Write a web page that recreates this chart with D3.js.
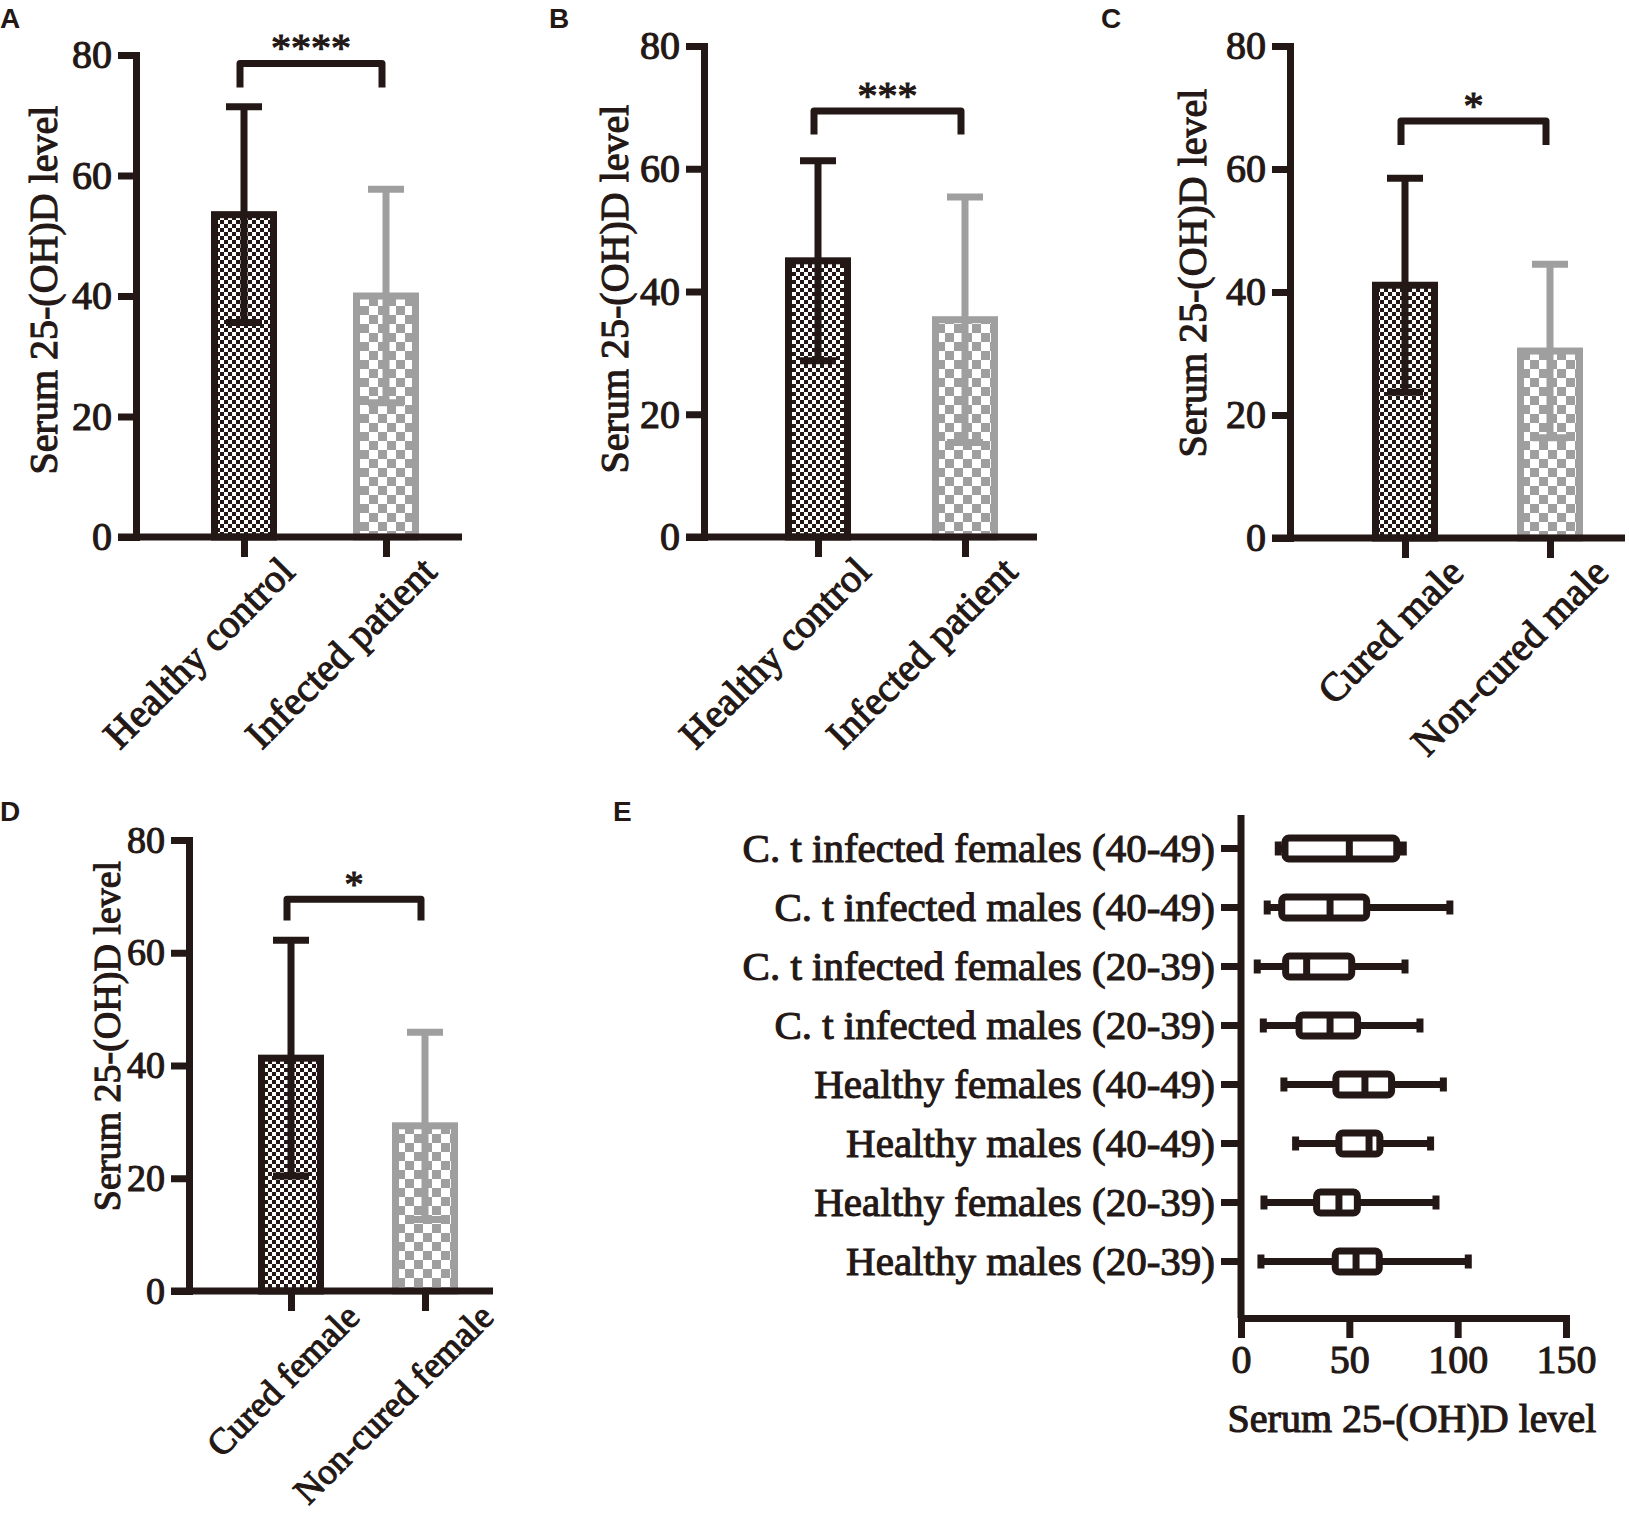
<!DOCTYPE html>
<html>
<head>
<meta charset="utf-8">
<script src="https://cdn.jsdelivr.net/npm/d3@7"></script>
<style>
body { margin: 0; background: #fff; }
svg text { font-family: "Liberation Serif", "Times New Roman", serif; fill: #231815; stroke: #231815; stroke-width: 1.1px; }
svg text.tag { font-family: "Liberation Sans", Arial, sans-serif; font-weight: bold; stroke: none; }
</style>
</head>
<body>
<svg id="fig" width="1629" height="1518"></svg>
<script>
// ---- data ----
var yTicks = [0, 20, 40, 60, 80];

var catsA = ["Healthy control", "Infected patient"];
var meanA = [53.5, 40.0];
var sdA = [17.9, 17.7];
var bracketA = [78.6, 74.6];

var catsB = ["Healthy control", "Infected patient"];
var meanB = [45.0, 35.4];
var sdB = [16.3, 20.0];
var bracketB = [69.4, 65.6];

var catsC = ["Cured male", "Non-cured male"];
var meanC = [41.1, 30.4];
var sdC = [17.4, 14.1];
var bracketC = [67.8, 63.9];

var catsD = ["Cured female", "Non-cured female"];
var meanD = [41.3, 29.3];
var sdD = [20.9, 16.6];
var bracketD = [69.5, 65.7];

var starsA = "****", starsB = "***", starsC = "*", starsD = "*";

// box plot rows, top to bottom
var boxGroups = ["C. t infected females (40-49)", "C. t infected males (40-49)",
	"C. t infected females (20-39)", "C. t infected males (20-39)",
	"Healthy females (40-49)", "Healthy males (40-49)",
	"Healthy females (20-39)", "Healthy males (20-39)"];
var boxMin = [17.2, 12.1, 7.5, 10.3, 19.8, 25.2, 10.6, 9.2];
var boxQ1 = [20.3, 18.8, 20.6, 26.8, 43.8, 45.2, 34.9, 43.5];
var boxMed = [50.0, 41.1, 30.3, 41.1, 57.2, 59.1, 45.2, 53.1];
var boxQ3 = [71.9, 58.0, 51.1, 53.8, 69.5, 64.1, 53.7, 63.8];
var boxMax = [74.9, 96.4, 75.7, 82.6, 93.4, 87.5, 90.0, 104.9];
var boxTicks = [0, 50, 100, 150];

var DARK = "#231815", GRAY = "#9f9f9f";
var LW = 7;

var svg = d3.select("#fig");

// patterns for the bars
var defs = svg.append("defs");
var pDark = defs.append("pattern").attr("id", "fineDark")
	.attr("patternUnits", "userSpaceOnUse").attr("width", 8).attr("height", 8);
pDark.append("rect").attr("width", 8).attr("height", 8).attr("fill", "#fff");
pDark.append("rect").attr("width", 4).attr("height", 4).attr("fill", DARK);
pDark.append("rect").attr("x", 4).attr("y", 4).attr("width", 4).attr("height", 4).attr("fill", DARK);

var pGray = defs.append("pattern").attr("id", "checkGray")
	.attr("patternUnits", "userSpaceOnUse").attr("width", 18).attr("height", 18);
pGray.append("rect").attr("width", 18).attr("height", 18).attr("fill", "#fff");
pGray.append("rect").attr("width", 9).attr("height", 9).attr("fill", GRAY);
pGray.append("rect").attr("x", 9).attr("y", 9).attr("width", 9).attr("height", 9).attr("fill", GRAY);

// layout of the four bar panels
var barPanels = [
	{ tag: "A", cats: catsA, means: meanA, sds: sdA, br: bracketA, stars: starsA, fs: 40, catFs: 40,
	  ax: 136, y0: 537, yTop: 55, xEnd: 462, c1: 244, c2: 386, ylabX: 57, ylabY: 290,
	  lx: 52, ly: 37, tx: 0, ty: 28 },
	{ tag: "B", cats: catsB, means: meanB, sds: sdB, br: bracketB, stars: starsB, fs: 40, catFs: 40,
	  ax: 704, y0: 537, yTop: 46, xEnd: 1037, c1: 818, c2: 965, ylabX: 628, ylabY: 289,
	  lx: 54, ly: 37, tx: 549, ty: 28 },
	{ tag: "C", cats: catsC, means: meanC, sds: sdC, br: bracketC, stars: starsC, fs: 40, catFs: 40,
	  ax: 1290, y0: 538, yTop: 46, xEnd: 1625, c1: 1405, c2: 1550, ylabX: 1206, ylabY: 273,
	  lx: 60, ly: 37, tx: 1101, ty: 28 },
	{ tag: "D", cats: catsD, means: meanD, sds: sdD, br: bracketD, stars: starsD, fs: 38, catFs: 36.5,
	  ax: 189, y0: 1291, yTop: 840, xEnd: 493, c1: 291, c2: 425, ylabX: 120, ylabY: 1036,
	  lx: 70, ly: 28, tx: 0, ty: 821 }
];

barPanels.forEach(function(p) { drawBarPanel(p); });
drawBoxPanel();

function drawBarPanel(p) {
	var g = svg.append("g");
	var y = d3.scaleLinear().domain([0, 80]).range([p.y0, p.yTop]);
	var x = d3.scalePoint().domain(p.cats).range([p.c1, p.c2]);
	var barW = 59, capW = 36;

	var rows = p.cats.map(function(c, i) {
		return { cat: c, mean: p.means[i], sd: p.sds[i], dark: i == 0 };
	});

	// bars
	g.selectAll(".bar").data(rows).enter().append("rect")
		.attr("class", "bar")
		.attr("x", function(d) { return x(d.cat) - barW / 2; })
		.attr("y", function(d) { return y(d.mean); })
		.attr("width", barW)
		.attr("height", function(d) { return y(0) - y(d.mean); })
		.attr("fill", function(d) { return d.dark ? "url(#fineDark)" : "url(#checkGray)"; })
		.attr("stroke", function(d) { return d.dark ? DARK : GRAY; })
		.attr("stroke-width", LW);

	// error bars (SD)
	var eb = g.selectAll(".err").data(rows).enter().append("g")
		.attr("class", "err")
		.attr("stroke", function(d) { return d.dark ? DARK : GRAY; })
		.attr("stroke-width", LW);
	eb.append("line")
		.attr("x1", function(d) { return x(d.cat); })
		.attr("x2", function(d) { return x(d.cat); })
		.attr("y1", function(d) { return y(d.mean - d.sd); })
		.attr("y2", function(d) { return y(d.mean + d.sd); });
	eb.append("line")
		.attr("x1", function(d) { return x(d.cat) - capW / 2; })
		.attr("x2", function(d) { return x(d.cat) + capW / 2; })
		.attr("y1", function(d) { return y(d.mean + d.sd); })
		.attr("y2", function(d) { return y(d.mean + d.sd); });
	eb.append("line")
		.attr("x1", function(d) { return x(d.cat) - capW / 2; })
		.attr("x2", function(d) { return x(d.cat) + capW / 2; })
		.attr("y1", function(d) { return y(d.mean - d.sd); })
		.attr("y2", function(d) { return y(d.mean - d.sd); });

	// y axis
	var yAxis = d3.axisLeft(y).tickValues(yTicks).tickSize(18).tickPadding(6).tickSizeOuter(0);
	var ya = g.append("g").attr("transform", "translate(" + p.ax + ",0)").call(yAxis);
	styleAxis(ya, p.fs);

	// x axis baseline + ticks
	g.append("line")
		.attr("x1", p.ax - 18).attr("x2", p.xEnd)
		.attr("y1", y(0)).attr("y2", y(0))
		.attr("stroke", DARK).attr("stroke-width", LW);
	var xAxis = d3.axisBottom(x).tickSize(20).tickSizeOuter(0);
	var xa = g.append("g").attr("transform", "translate(0," + y(0) + ")").call(xAxis);
	xa.select(".domain").remove();
	styleAxis(xa, p.catFs);
	xa.selectAll(".tick text")
		.attr("x", 0).attr("y", 0).attr("dy", 0)
		.attr("text-anchor", "end")
		.attr("transform", "translate(" + p.lx + "," + p.ly + ") rotate(-45)");

	// y axis title
	g.append("text")
		.attr("transform", "translate(" + p.ylabX + "," + p.ylabY + ") rotate(-90)")
		.attr("text-anchor", "middle")
		.attr("font-size", p.fs)
		.text("Serum 25-(OH)D level");

	// significance bracket
	var bx1 = x(p.cats[0]) - 4, bx2 = x(p.cats[1]) - 4;
	g.append("path")
		.attr("d", "M" + bx1 + "," + y(p.br[1]) + "V" + y(p.br[0]) + "H" + bx2 + "V" + y(p.br[1]))
		.attr("fill", "none").attr("stroke", DARK).attr("stroke-width", LW)
		.attr("stroke-linejoin", "round");
	g.append("text")
		.attr("x", (bx1 + bx2) / 2).attr("y", y(p.br[0]) - 2)
		.attr("text-anchor", "middle").attr("font-size", p.fs)
		.text(p.stars);

	// panel letter
	svg.append("text").attr("class", "tag")
		.attr("x", p.tx).attr("y", p.ty).attr("font-size", 28)
		.text(p.tag);
}

function styleAxis(a, fs) {
	a.attr("font-size", null).attr("font-family", null);
	a.select(".domain").attr("stroke", DARK).attr("stroke-width", LW).attr("stroke-linecap", "square");
	a.selectAll(".tick line").attr("stroke", DARK).attr("stroke-width", LW);
	a.selectAll(".tick text").attr("font-size", fs).attr("fill", DARK);
}

function drawBoxPanel() {
	var g = svg.append("g");
	var x = d3.scaleLinear().domain([0, 150]).range([1241, 1566]);
	var y = d3.scaleBand().domain(boxGroups).range([819, 1291]);
	var yTopLine = 815, xAxisY = 1318;
	var boxH = 21, capH = 14;

	var rows = boxGroups.map(function(gname, i) {
		return { g: gname, min: boxMin[i], q1: boxQ1[i], med: boxMed[i], q3: boxQ3[i], max: boxMax[i] };
	});
	function cy(d) { return y(d.g) + y.bandwidth() / 2; }

	var b = g.selectAll(".box").data(rows).enter().append("g")
		.attr("class", "box").attr("stroke", DARK).attr("stroke-width", LW);
	// whisker
	b.append("line")
		.attr("x1", function(d) { return x(d.min); }).attr("x2", function(d) { return x(d.max); })
		.attr("y1", cy).attr("y2", cy);
	// whisker caps
	b.append("line")
		.attr("x1", function(d) { return x(d.min); }).attr("x2", function(d) { return x(d.min); })
		.attr("y1", function(d) { return cy(d) - capH / 2; }).attr("y2", function(d) { return cy(d) + capH / 2; });
	b.append("line")
		.attr("x1", function(d) { return x(d.max); }).attr("x2", function(d) { return x(d.max); })
		.attr("y1", function(d) { return cy(d) - capH / 2; }).attr("y2", function(d) { return cy(d) + capH / 2; });
	// box
	b.append("rect")
		.attr("x", function(d) { return x(d.q1); })
		.attr("y", function(d) { return cy(d) - boxH / 2; })
		.attr("width", function(d) { return x(d.q3) - x(d.q1); })
		.attr("height", boxH)
		.attr("rx", 4)
		.attr("fill", "#fff");
	// median
	b.append("line")
		.attr("x1", function(d) { return x(d.med); }).attr("x2", function(d) { return x(d.med); })
		.attr("y1", function(d) { return cy(d) - boxH / 2; }).attr("y2", function(d) { return cy(d) + boxH / 2; });

	// y axis line and category ticks
	g.append("line")
		.attr("x1", x(0)).attr("x2", x(0))
		.attr("y1", yTopLine).attr("y2", xAxisY)
		.attr("stroke", DARK).attr("stroke-width", LW);
	var ya = g.append("g").attr("transform", "translate(" + x(0) + ",0)")
		.call(d3.axisLeft(y).tickSize(20).tickPadding(6).tickSizeOuter(0));
	ya.select(".domain").remove();
	styleAxis(ya, 41);

	// x axis
	var xa = g.append("g").attr("transform", "translate(0," + xAxisY + ")")
		.call(d3.axisBottom(x).tickValues(boxTicks).tickSize(20).tickPadding(7).tickSizeOuter(0));
	styleAxis(xa, 40);

	g.append("text")
		.attr("x", 1412).attr("y", 1432)
		.attr("text-anchor", "middle").attr("font-size", 40)
		.text("Serum 25-(OH)D level");

	svg.append("text").attr("class", "tag")
		.attr("x", 613).attr("y", 821).attr("font-size", 28)
		.text("E");
}
</script>
</body>
</html>
